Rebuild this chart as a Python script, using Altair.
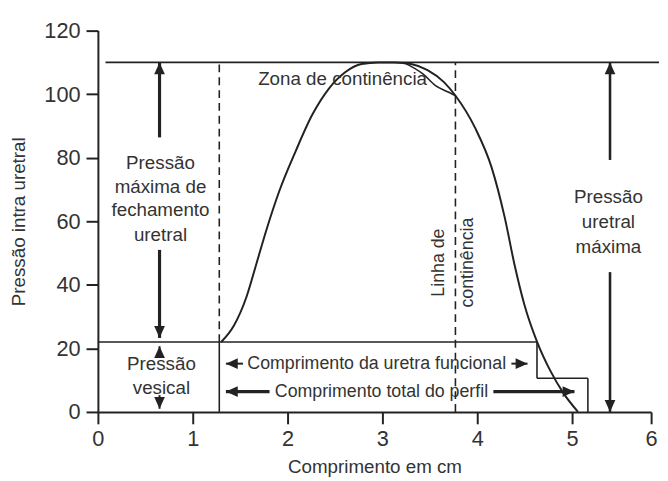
import altair as alt
import pandas as pd

# ---------------- data ----------------
# urethral pressure profile curve (cm, pressure)
curve_x = [1.30, 1.433, 1.57, 1.673, 1.776, 1.914, 2.086, 2.26, 2.434, 2.607, 2.781, 2.955,
           3.125, 3.302, 3.476, 3.649, 3.771, 3.979, 4.152, 4.289, 4.392, 4.495, 4.632,
           4.77, 4.907, 5.075]
curve_y = [22.0, 27.1, 36.5, 46.8, 57.2, 69.6, 82.1, 93.5, 101.7, 106.9, 109.5, 110.0,
           110.0, 109.5, 107.6, 103.8, 99.5, 89.3, 76.9, 61.3, 46.5, 34.0, 22.0,
           13.0, 6.0, 0.0]

# lower arc of the "zona de continencia" lens
lens_x = [3.22, 3.43, 3.56, 3.70, 3.771]
lens_y = [110.0, 106.3, 102.7, 100.6, 99.5]

# solid reference segments
solid_x = [0.08, 0.0, 1.28, 4.63, 4.63, 5.2]
solid_x2 = [6.1, 4.63, 1.28, 4.63, 5.2, 5.2]
solid_y = [110, 22, 0, 22, 10.6, 10.6]
solid_y2 = [110, 22, 22, 10.6, 10.6, 0]

# dashed reference segments
dash_x = [1.28, 3.77]
dash_y = [22, 0]
dash_y2 = [110, 110]

# arrows: shaft start (x0, y0) -> tip (x1, y1)
arrow_x0 = [0.65, 0.65, 0.65, 0.65, 5.48, 5.48, 1.53, 4.36, 1.81, 4.17]
arrow_y0 = [86.4, 51.0, 17.0, 5.3, 79.3, 44.0, 15.2, 15.2, 6.4, 6.4]
arrow_x1 = [0.65, 0.65, 0.65, 0.65, 5.48, 5.48, 1.35, 4.53, 1.35, 5.03]
arrow_y1 = [110, 23.3, 20.7, 1.0, 110, 0.0, 15.2, 15.2, 6.4, 6.4]
arrow_dir = ["up", "down", "up", "down", "up", "down", "left", "right", "left", "right"]
arrow_kind = ["heavy", "heavy", "small", "small", "light", "light", "small", "small", "heavy", "heavy"]

# annotation texts
text_label = ["Zona de continência", "Pressão", "máxima de", "fechamento", "uretral",
              "Pressão", "vesical", "Pressão", "uretral", "máxima"]
text_x = [2.58, 0.66, 0.66, 0.66, 0.66, 0.67, 0.67, 5.46, 5.46, 5.46]
text_y = [104.9, 78.4, 70.7, 63.4, 55.6, 15.2, 7.5, 67.5, 59.8, 52.0]

btext_label = ["Comprimento da uretra funcional", "Comprimento total do perfil"]
btext_x = [2.94, 2.99]
btext_y = [15.2, 6.4]

vtext_label = ["Linha de", "continência"]
vtext_x = [3.6, 3.9]
vtext_y = [47, 47]

x_ticks = [0, 1, 2, 3, 4, 5, 6]
y_ticks = [0, 20, 40, 60, 80, 100, 120]

# ---------------- tables ----------------
curve_df = pd.DataFrame({"x": curve_x, "y": curve_y})
lens_df = pd.DataFrame({"x": lens_x, "y": lens_y})
solid_df = pd.DataFrame({"x": solid_x, "x2": solid_x2, "y": solid_y, "y2": solid_y2})
dash_df = pd.DataFrame({"x": dash_x, "x2": dash_x, "y": dash_y, "y2": dash_y2})
arrow_df = pd.DataFrame({"x": arrow_x0, "y": arrow_y0, "x2": arrow_x1, "y2": arrow_y1,
                         "dir": arrow_dir, "kind": arrow_kind})
head_df = pd.DataFrame({"x": arrow_x1, "y": arrow_y1, "dir": arrow_dir, "kind": arrow_kind})
text_df = pd.DataFrame({"x": text_x, "y": text_y, "label": text_label})
btext_df = pd.DataFrame({"x": btext_x, "y": btext_y, "label": btext_label})
vtext_df = pd.DataFrame({"x": vtext_x, "y": vtext_y, "label": vtext_label})

FONT = "Liberation Sans"
INK = "#222222"
TXT = "#333333"

# the printed axis is slightly compressed between 5 and 6
xs = alt.Scale(domain=[0, 5, 6], range=[0, 480, 560], nice=False, zero=False)
ys = alt.Scale(domain=[0, 120], nice=False)
x_axis = alt.Axis(values=x_ticks, title="Comprimento em cm", format="d",
                  labelFlush=False, labelOverlap=False, labelBound=False)
y_axis = alt.Axis(values=y_ticks, title="Pressão intra uretral", format="d",
                  labelFlush=False, labelOverlap=False, labelBound=False)


def X(f="x"):
    return alt.X(f, type="quantitative", scale=xs, axis=x_axis)


def Y(f="y"):
    return alt.Y(f, type="quantitative", scale=ys, axis=y_axis)


curve = alt.Chart(curve_df).mark_line(
    color=INK, strokeWidth=2, interpolate="monotone"
).encode(x=X(), y=Y(), order="x:Q")

lens = alt.Chart(lens_df).mark_line(
    color=INK, strokeWidth=1.6, interpolate="monotone"
).encode(x=X(), y=Y(), order="x:Q")

solid = alt.Chart(solid_df).mark_rule(color=INK, strokeWidth=1.6).encode(
    x=X(), x2="x2:Q", y=Y(), y2="y2:Q")

dashed = alt.Chart(dash_df).mark_rule(color=INK, strokeWidth=1.6, strokeDash=[8, 5]).encode(
    x=X(), x2="x2:Q", y=Y(), y2="y2:Q")

shafts = alt.Chart(arrow_df).mark_rule(color=INK).encode(
    x=X(), x2="x2:Q", y=Y(), y2="y2:Q",
    strokeWidth=alt.StrokeWidth("kind:N", scale=alt.Scale(domain=["heavy", "light", "small"],
                                                          range=[3.2, 2, 2]), legend=None))

head_paths = ["M0,0L-0.9,2L0.9,2Z", "M0,0L-0.9,-2L0.9,-2Z",
              "M0,0L2,-0.9L2,0.9Z", "M0,0L-2,-0.9L-2,0.9Z"]
heads = alt.Chart(head_df).mark_point(filled=True, opacity=1, color=INK, strokeWidth=0).encode(
    x=X(), y=Y(),
    shape=alt.Shape("dir:N", scale=alt.Scale(domain=["up", "down", "left", "right"],
                                             range=head_paths), legend=None),
    size=alt.Size("kind:N", scale=alt.Scale(domain=["heavy", "light", "small"],
                                            range=[144, 144, 90]), legend=None))

texts = alt.Chart(text_df).mark_text(font=FONT, color=TXT, fontSize=19,
                                     baseline="middle", align="center").encode(
    x=X(), y=Y(), text="label:N")

btexts = alt.Chart(btext_df).mark_text(font=FONT, color=TXT, fontSize=18,
                                       baseline="middle", align="center").encode(
    x=X(), y=Y(), text="label:N")

vtexts = alt.Chart(vtext_df).mark_text(font=FONT, color=TXT, fontSize=18, angle=270,
                                       baseline="middle", align="center").encode(
    x=X(), y=Y(), text="label:N")

chart = alt.layer(solid, dashed, curve, lens, shafts, heads, texts, btexts, vtexts).properties(
    width=564, height=386,
    autosize=alt.AutoSizeParams(type="none"),
    padding={"left": 91, "top": 20, "right": 5, "bottom": 67},
).configure_view(stroke=None).configure_axis(
    grid=False, domainColor=INK, domainWidth=2, tickColor=INK, tickWidth=2,
    labelFont=FONT, labelFontSize=22, labelColor=TXT,
    titleFont=FONT, titleFontSize=19, titleColor=TXT, titleFontWeight="normal",
).configure_axisX(tickSize=12, labelPadding=5, titlePadding=8, titleFontSize=19
).configure_axisY(tickSize=12, labelPadding=6, titlePadding=16)

chart.save("out.html", embed_options={"renderer": "svg", "actions": False})
